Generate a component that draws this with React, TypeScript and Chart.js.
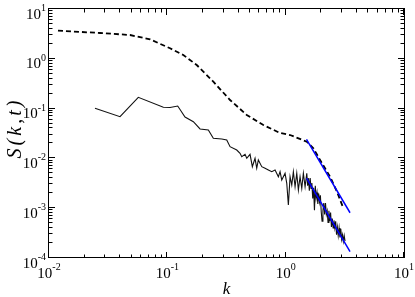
import React, { useEffect, useRef } from "react";
import { Chart, registerables } from "chart.js";

Chart.register(...registerables);

// Dashed curve (structure factor, smooth)
const smoothK = [0.01191, 0.02698, 0.04838, 0.07141, 0.1054, 0.1365, 0.1772, 0.2447, 0.3388, 0.469, 0.6478, 0.8968, 1.0894, 1.508, 1.7146, 1.9535, 2.373, 2.719, 3.0747];
const smoothS = [3.666, 3.297, 3.006, 2.464, 1.625, 1.192, 0.7509, 0.3469, 0.1489, 0.07437, 0.04684, 0.03236, 0.02951, 0.02164, 0.01595, 0.00929, 0.00429, 0.00212, 0.000995];

// Solid noisy curve
const noisyK = [
  0.02447, 0.03983, 0.05685, 0.09252, 0.1054, 0.1224, 0.1411, 0.1659, 0.189, 0.2221,
  0.2447, 0.2884, 0.3177, 0.3388, 0.386, 0.4116, 0.4255, 0.4537, 0.469, 0.5,
  0.5229, 0.551, 0.5695, 0.5875, 0.6281, 0.6697, 0.714, 0.7628, 0.8137, 0.8676,
  0.8968, 0.9268, 0.9883, 1.0216, 1.0539, 1.0894, 1.1261, 1.1616, 1.2008, 1.241,
  1.2805, 1.3233, 1.3679, 1.4111, 1.4588,
  1.508, 1.533, 1.559, 1.585, 1.611, 1.638, 1.665, 1.693, 1.722, 1.751,
  1.78, 1.809, 1.84, 1.87, 1.901, 1.933, 1.965, 1.998, 2.031, 2.065,
  2.1, 2.135, 2.17, 2.207, 2.243, 2.28, 2.319, 2.357, 2.397, 2.437,
  2.477, 2.518, 2.56, 2.603, 2.646, 2.691, 2.736, 2.781, 2.828, 2.875,
  2.923, 2.972, 3.021, 3.072, 3.123, 3.175,
];
const noisyS = [
  0.1014, 0.06878, 0.1686, 0.1062, 0.1052, 0.1128, 0.06784, 0.05455, 0.03896, 0.0372,
  0.02533, 0.02452, 0.02341, 0.01717, 0.01475, 0.01266, 0.01082, 0.01209, 0.01005, 0.01209,
  0.00681, 0.01005, 0.00633, 0.00929, 0.00681, 0.00633, 0.00585, 0.00541, 0.00585, 0.00429,
  0.00541, 0.00368, 0.00502, 0.00316, 0.00116, 0.00429, 0.00292, 0.00541, 0.0027, 0.00502,
  0.00232, 0.00429, 0.00251, 0.00502, 0.0027,
  0.005022, 0.002825, 0.004006, 0.002254, 0.004029, 0.002486, 0.003214, 0.001574, 0.002566, 0.000909,
  0.002829, 0.001591, 0.002058, 0.001213, 0.001976, 0.001337, 0.001811, 0.000847, 0.000547, 0.000892,
  0.001265, 0.000745, 0.001272, 0.00075, 0.000884, 0.00052, 0.000888, 0.000548, 0.000815, 0.000418,
  0.00062, 0.000401, 0.000569, 0.000403, 0.000546, 0.000293, 0.000416, 0.000282, 0.0004, 0.000258,
  0.000384, 0.000237, 0.000292, 0.000217, 0.000281, 0.000218,
];

// Blue power-law fits
const fitUpperK = [1.5, 3.5];
const fitUpperS = [0.024, 0.00081];
const fitLowerK = [1.5, 3.5];
const fitLowerS = [0.004, 0.000135];

// Axes
const xMin = 0.01;
const xMax = 10;
const yMin = 1e-4;
const yMax = 10;
const xExponents = [-2, -1, 0, 1];
const yExponents = [-4, -3, -2, -1, 0, 1];
const minorMultipliers = [2, 3, 4, 5, 6, 7, 8, 9];
const xTitle = "k";
const yTitle = "S(k,t)";

const toPoints = (xs: number[], ys: number[]) => xs.map((x, i) => ({ x, y: ys[i] }));

const SERIF = "'Liberation Serif', 'Times New Roman', serif";

const axesPlugin = {
  id: "graceAxes",
  afterDatasetsDraw(chart: any) {
    const ctx: CanvasRenderingContext2D = chart.ctx;
    const xs = chart.scales.x;
    const ys = chart.scales.y;
    const { left, right, top, bottom } = chart.chartArea;
    ctx.save();
    ctx.strokeStyle = "#000";
    ctx.fillStyle = "#000";
    ctx.lineWidth = 1;
    ctx.strokeRect(left - 0.5, top - 0.5, right - left + 1, bottom - top);

    const majorLen = 6;
    const minorLen = 3.5;
    ctx.beginPath();
    xExponents.forEach((e, idx) => {
      const base = Math.pow(10, e);
      const px = Math.round(xs.getPixelForValue(base)) - 0.5;
      ctx.moveTo(px, bottom); ctx.lineTo(px, bottom - majorLen);
      ctx.moveTo(px, top); ctx.lineTo(px, top + majorLen);
      if (idx < xExponents.length - 1) {
        minorMultipliers.forEach((m) => {
          const p = Math.round(xs.getPixelForValue(base * m)) - 0.5;
          ctx.moveTo(p, bottom); ctx.lineTo(p, bottom - minorLen);
          ctx.moveTo(p, top); ctx.lineTo(p, top + minorLen);
        });
      }
    });
    yExponents.forEach((e, idx) => {
      const base = Math.pow(10, e);
      const py = Math.round(ys.getPixelForValue(base)) - 0.5;
      ctx.moveTo(left, py); ctx.lineTo(left + majorLen, py);
      ctx.moveTo(right, py); ctx.lineTo(right - majorLen, py);
      if (idx < yExponents.length - 1) {
        minorMultipliers.forEach((m) => {
          const p = Math.round(ys.getPixelForValue(base * m)) - 0.5;
          ctx.moveTo(left, p); ctx.lineTo(left + minorLen, p);
          ctx.moveTo(right, p); ctx.lineTo(right - minorLen, p);
        });
      }
    });
    ctx.stroke();

    const bigFont = `15px ${SERIF}`;
    const supFont = `10px ${SERIF}`;
    ctx.textBaseline = "alphabetic";
    ctx.textAlign = "left";
    xExponents.forEach((e) => {
      const px = xs.getPixelForValue(Math.pow(10, e));
      const sup = String(e);
      ctx.font = bigFont;
      const w1 = ctx.measureText("10").width;
      ctx.font = supFont;
      const w2 = ctx.measureText(sup).width;
      const x0 = px - (w1 + w2) / 2;
      ctx.font = bigFont;
      ctx.fillText("10", x0, bottom + 20);
      ctx.font = supFont;
      ctx.fillText(sup, x0 + w1, bottom + 12);
    });
    yExponents.forEach((e) => {
      const py = ys.getPixelForValue(Math.pow(10, e));
      const sup = String(e);
      ctx.font = bigFont;
      const w1 = ctx.measureText("10").width;
      ctx.font = supFont;
      const w2 = ctx.measureText(sup).width;
      const x0 = left - 3 - (w1 + w2);
      ctx.font = bigFont;
      ctx.fillText("10", x0, py + 9.5);
      ctx.font = supFont;
      ctx.fillText(sup, x0 + w1, py + 2);
    });

    ctx.font = `italic 17px ${SERIF}`;
    ctx.textAlign = "center";
    ctx.fillText(xTitle, (left + right) / 2, bottom + 36);

    ctx.save();
    ctx.translate(21, 128);
    ctx.rotate(-Math.PI / 2);
    ctx.font = `italic 20px ${SERIF}`;
    (ctx as any).letterSpacing = "3px";
    ctx.textAlign = "center";
    ctx.fillText(yTitle, 0, 0);
    ctx.restore();

    ctx.restore();
  },
};

export default function App() {
  const ref = useRef<HTMLCanvasElement | null>(null);
  useEffect(() => {
    if (!ref.current) return;
    const chart = new Chart(ref.current, {
      type: "line",
      data: {
        datasets: [
          { data: toPoints(fitUpperK, fitUpperS), borderColor: "#0000ff", borderWidth: 1.5, order: 0 },
          { data: toPoints(fitLowerK, fitLowerS), borderColor: "#0000ff", borderWidth: 1.5, order: 0 },
          { data: toPoints(smoothK, smoothS), borderColor: "#000", borderWidth: 1.8, borderDash: [5, 3], order: 1 },
          { data: toPoints(noisyK, noisyS), borderColor: "#111", borderWidth: 1.1, order: 1 },
        ] as any,
      },
      options: {
        animation: false,
        responsive: false,
        layout: { padding: { left: 49, right: 11, top: 9, bottom: 39 } },
        scales: {
          x: { type: "logarithmic", min: xMin, max: xMax, display: false },
          y: { type: "logarithmic", min: yMin, max: yMax, display: false },
        },
        elements: { point: { radius: 0 }, line: { tension: 0 } },
        plugins: { legend: { display: false }, tooltip: { enabled: false } },
      } as any,
      plugins: [axesPlugin],
    });
    return () => chart.destroy();
  }, []);
  return (
    <div style={{ position: "fixed", left: 0, top: 0, width: 415, height: 297, background: "#fff" }}>
      <canvas ref={ref} width={415} height={297} />
    </div>
  );
}
